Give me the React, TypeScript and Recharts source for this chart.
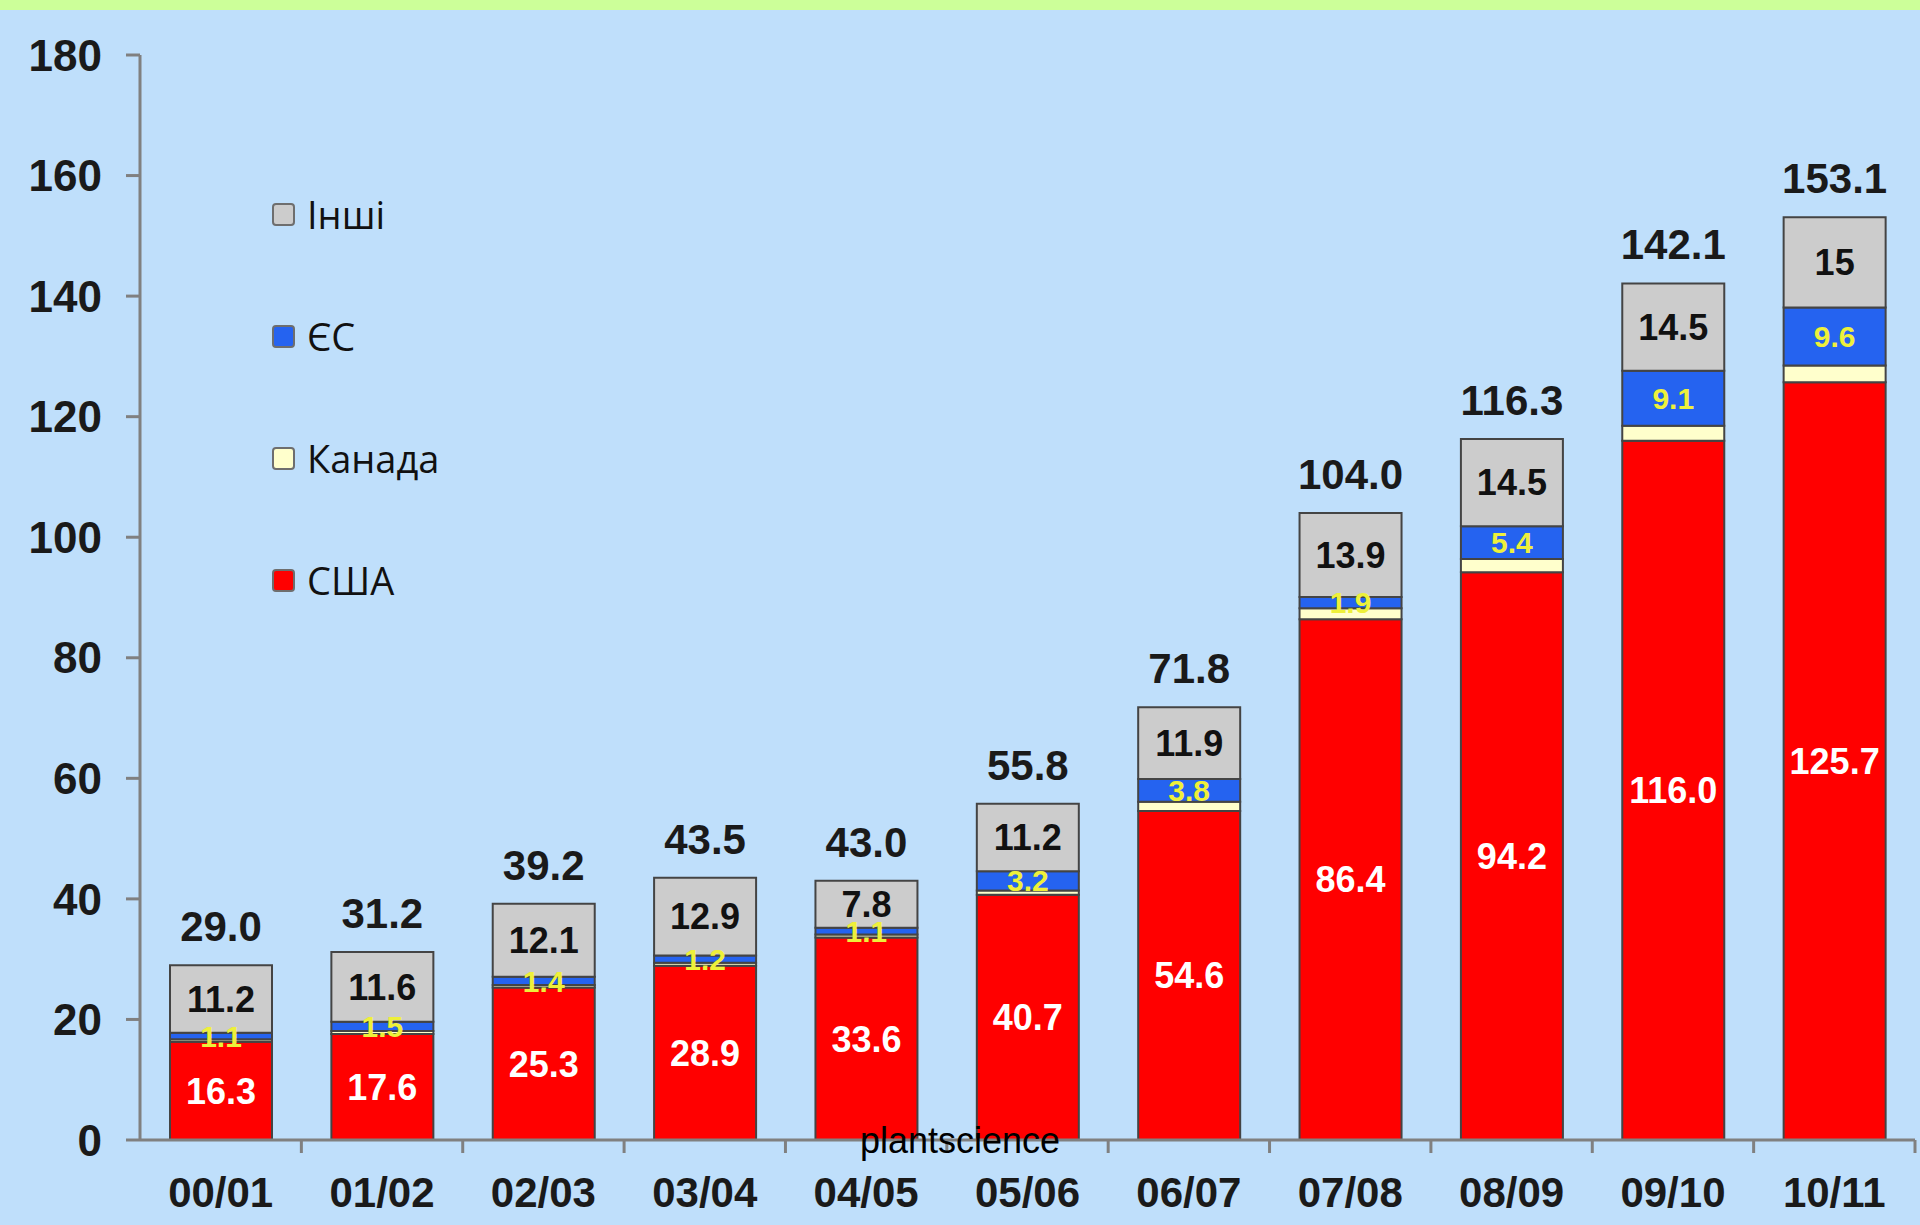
import React from 'react';
import { BarChart, Bar, XAxis, YAxis, Legend, LabelList } from 'recharts';

const seasons = ['00/01', '01/02', '02/03', '03/04', '04/05', '05/06', '06/07', '07/08', '08/09', '09/10', '10/11'];
const usa = [16.3, 17.6, 25.3, 28.9, 33.6, 40.7, 54.6, 86.4, 94.2, 116.0, 125.7];
const canada = [0.4, 0.5, 0.4, 0.5, 0.5, 0.7, 1.5, 1.8, 2.2, 2.5, 2.8];
const eu = [1.1, 1.5, 1.4, 1.2, 1.1, 3.2, 3.8, 1.9, 5.4, 9.1, 9.6];
const others = [11.2, 11.6, 12.1, 12.9, 7.8, 11.2, 11.9, 13.9, 14.5, 14.5, 15];
const totals = [29.0, 31.2, 39.2, 43.5, 43.0, 55.8, 71.8, 104.0, 116.3, 142.1, 153.1];
const yTicks = [0, 20, 40, 60, 80, 100, 120, 140, 160, 180];

const data = seasons.map((season, i) => ({
  season,
  usa: usa[i],
  canada: canada[i],
  eu: eu[i],
  others: others[i],
  total: totals[i],
}));

const legendItems = [
  { name: 'Інші', color: '#cccccc' },
  { name: 'ЄС', color: '#2563f0' },
  { name: 'Канада', color: '#ffffcc' },
  { name: 'США', color: '#ff0000' },
];

const FONT = "'Liberation Sans', Arial, sans-serif";
const AXIS = '#808080';
const HALF_BAND = (1920 - 140 - 5) / 11 / 2;

const SeasonTick = (props: any) => {
  const { x, y, payload } = props;
  return (
    <g>
      <line x1={x + HALF_BAND} x2={x + HALF_BAND} y1={y} y2={y + 13} stroke={AXIS} strokeWidth={3} />
      <text
        x={x}
        y={y + 67}
        textAnchor="middle"
        fontFamily={FONT}
        fontWeight="bold"
        fontSize={42}
        fill="#1a1a1a"
      >
        {payload.value}
      </text>
    </g>
  );
};

const renderLegend = () => (
  <div style={{ fontFamily: "'Open Sans', sans-serif" }}>
    {legendItems.map((item) => (
      <div key={item.name} style={{ height: 122, display: 'flex', alignItems: 'center' }}>
        <span
          style={{
            width: 19,
            height: 19,
            background: item.color,
            border: '2px solid #6e6e6e',
            borderRadius: 4,
            display: 'inline-block',
          }}
        />
        <span style={{ marginLeft: 12, fontSize: 38, color: '#111' }}>{item.name}</span>
      </div>
    ))}
  </div>
);

export default function App() {
  return (
    <div
      style={{
        position: 'absolute',
        left: 0,
        top: 0,
        width: 1920,
        height: 1225,
        background: '#bfdffb',
        overflow: 'hidden',
      }}
    >
      <div style={{ position: 'absolute', left: 0, top: 0, width: 1920, height: 10, background: '#ccff99' }} />
      <BarChart
        width={1920}
        height={1225}
        data={data}
        margin={{ top: 55, right: 5, left: 0, bottom: 0 }}
      >
        <XAxis
          dataKey="season"
          height={85}
          axisLine={{ stroke: AXIS, strokeWidth: 3 }}
          tickLine={false}
          tickSize={0}
          tickMargin={0}
          interval={0}
          tick={<SeasonTick />}
        />
        <YAxis
          width={140}
          domain={[0, 180]}
          ticks={yTicks}
          interval={0}
          axisLine={{ stroke: AXIS, strokeWidth: 3 }}
          tickLine={{ stroke: AXIS, strokeWidth: 3 }}
          tickSize={14}
          tickMargin={24}
          tick={{ fontFamily: FONT, fontWeight: 'bold', fontSize: 44, fill: '#1a1a1a' }}
        />
        <Legend
          layout="horizontal"
          align="center"
          verticalAlign="middle"
          content={renderLegend}
          wrapperStyle={{ position: 'absolute', left: 272, top: 153, width: 'auto', height: 'auto' }}
        />
        <Bar dataKey="usa" name="США" stackId="a" fill="#ff0000" stroke="#444" strokeWidth={2} barSize={102} isAnimationActive={false}>
          <LabelList
            dataKey="usa"
            position="center"
            formatter={(v: any) => Number(v).toFixed(1)}
            fill="#ffffff"
            stroke="none"
            fontFamily={FONT}
            fontWeight="bold"
            fontSize={36}
          />
        </Bar>
        <Bar dataKey="canada" name="Канада" stackId="a" fill="#ffffcc" stroke="#444" strokeWidth={2} barSize={102} isAnimationActive={false} />
        <Bar dataKey="eu" name="ЄС" stackId="a" fill="#2563f0" stroke="#444" strokeWidth={2} barSize={102} isAnimationActive={false}>
          <LabelList
            dataKey="eu"
            position="center"
            fill="#eef03a"
            stroke="none"
            fontFamily={FONT}
            fontWeight="bold"
            fontSize={30}
          />
        </Bar>
        <Bar dataKey="others" name="Інші" stackId="a" fill="#cccccc" stroke="#444" strokeWidth={2} barSize={102} isAnimationActive={false}>
          <LabelList
            dataKey="others"
            position="center"
            fill="#111111"
            stroke="none"
            fontFamily={FONT}
            fontWeight="bold"
            fontSize={36}
          />
          <LabelList
            dataKey="total"
            position="top"
            offset={24}
            formatter={(v: any) => Number(v).toFixed(1)}
            fill="#1a1a1a"
            stroke="none"
            fontFamily={FONT}
            fontWeight="bold"
            fontSize={42}
          />
        </Bar>
      </BarChart>
      <div
        style={{
          position: 'absolute',
          left: 850,
          width: 220,
          top: 1121,
          textAlign: 'center',
          fontFamily: FONT,
          fontSize: 36,
          lineHeight: '40px',
          color: '#000',
          pointerEvents: 'none',
        }}
      >
        plantscience
      </div>
    </div>
  );
}
